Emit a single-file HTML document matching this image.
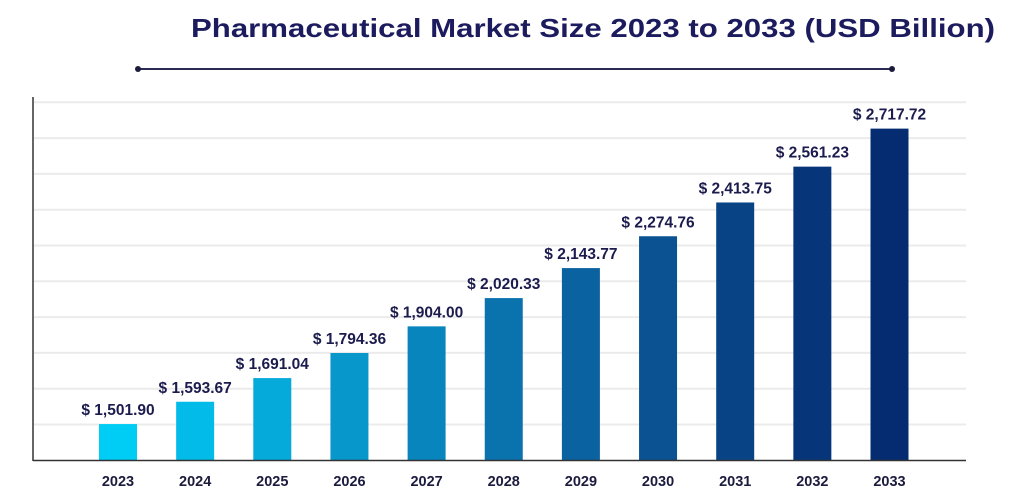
<!DOCTYPE html>
<html><head><meta charset="utf-8"><style>
html,body{margin:0;padding:0;background:#fff;}
svg{display:block;font-family:"Liberation Sans",sans-serif;}
</style></head><body>
<svg id="chart" width="1024" height="502" viewBox="0 0 1024 502" xmlns="http://www.w3.org/2000/svg">
<text x="191" y="37" font-size="26" font-weight="bold" fill="#1b1b5e" textLength="804" lengthAdjust="spacingAndGlyphs">Pharmaceutical Market Size 2023 to 2033 (USD Billion)</text>
<line x1="138" y1="69" x2="892" y2="69" stroke="#2a2a55" stroke-width="2"/>
<circle cx="138" cy="69" r="3" fill="#1b1b3e"/>
<circle cx="892" cy="69" r="3" fill="#1b1b3e"/>
<g id="grid"></g>
<g id="bars"></g>
<line x1="33" y1="97" x2="33" y2="461" stroke="#333" stroke-width="1.5"/>
<line x1="33" y1="460.5" x2="966" y2="460.5" stroke="#333" stroke-width="1.5"/>
</svg>
<script>
const categories=["2023","2024","2025","2026","2027","2028","2029","2030","2031","2032","2033"];
const values=[1501.90,1593.67,1691.04,1794.36,1904.00,2020.33,2143.77,2274.76,2413.75,2561.23,2717.72];
const valueLabels=["$ 1,501.90","$ 1,593.67","$ 1,691.04","$ 1,794.36","$ 1,904.00","$ 2,020.33","$ 2,143.77","$ 2,274.76","$ 2,413.75","$ 2,561.23","$ 2,717.72"];
const colors=["#00cdf5","#03bbe8","#05a9da","#0797cb","#0985bd","#0a73ae","#0b62a0","#0a5292","#084485","#063679","#052c70"];
const NS="http://www.w3.org/2000/svg";
const yBase=460, slope=0.243, vMin=1354;
function y(v){return yBase-(v-vMin)*slope;}
function x(i){return 118+i*77.15;}
const grid=document.getElementById('grid');
for(let k=0;k<10;k++){
  const l=document.createElementNS(NS,'line');
  const gy=424.5-k*35.8;
  l.setAttribute('x1',34);l.setAttribute('x2',966);l.setAttribute('y1',gy);l.setAttribute('y2',gy);
  l.setAttribute('stroke','#ebebeb');l.setAttribute('stroke-width','2');
  
  
  grid.appendChild(l);
}
const bars=document.getElementById('bars');
categories.forEach((c,i)=>{
  const r=document.createElementNS(NS,'rect');
  const top=y(values[i]);
  r.setAttribute('x',x(i)-19);r.setAttribute('width',38);
  r.setAttribute('y',top);r.setAttribute('height',yBase-top);
  r.setAttribute('fill',colors[i]);
  
  
  bars.appendChild(r);
  const t=document.createElementNS(NS,'text');
  t.setAttribute('x',x(i));t.setAttribute('y',top-9);
  t.setAttribute('text-anchor','middle');t.setAttribute('font-size','15.5');t.setAttribute('font-weight','bold');t.setAttribute('fill','#1b1b4e');
  t.textContent=valueLabels[i];
  
  
  bars.appendChild(t);
  const xl=document.createElementNS(NS,'text');
  xl.setAttribute('x',x(i));xl.setAttribute('y',486);
  xl.setAttribute('text-anchor','middle');xl.setAttribute('font-size','14.5');xl.setAttribute('font-weight','bold');xl.setAttribute('fill','#1b1b3e');
  xl.textContent=c;
  
  
  bars.appendChild(xl);
});
</script>
</body></html>
